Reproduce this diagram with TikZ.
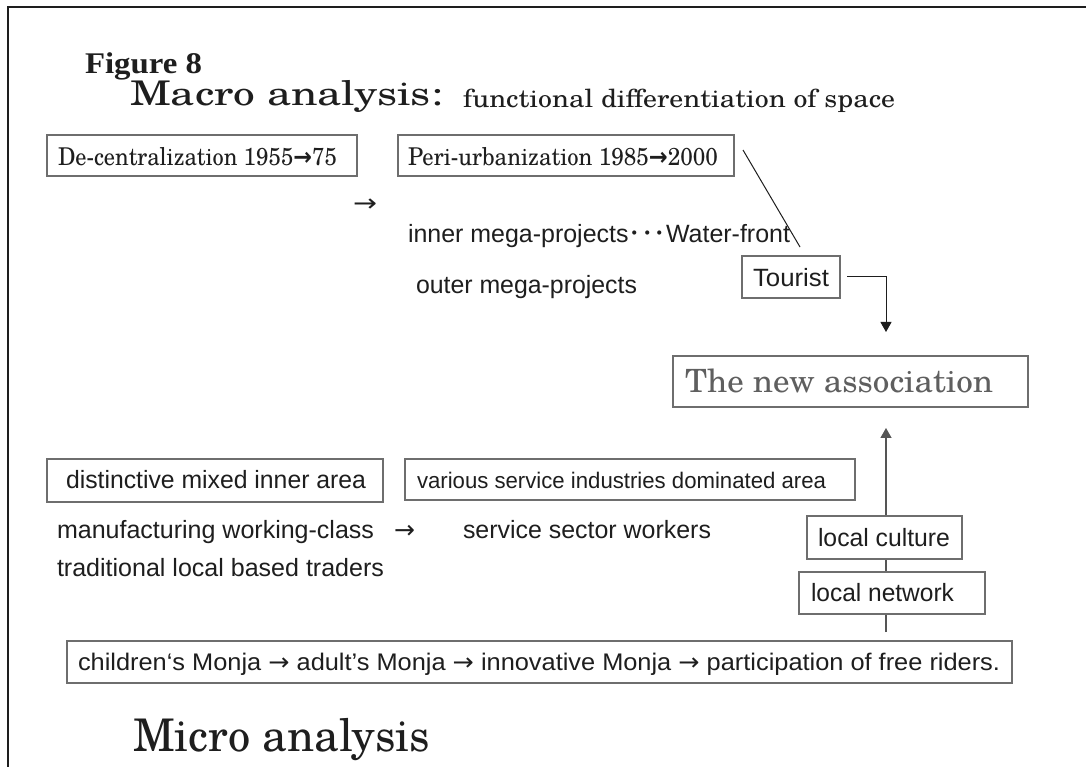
\documentclass[tikz,border=0pt]{standalone}
\usepackage{fontspec}
\usepackage{graphicx}
\usetikzlibrary{arrows.meta,calc,backgrounds}
\setmainfont{Liberation Sans}
\newfontfamily\schola{texgyreschola-regular.otf}
\newfontfamily\figfont{Liberation Serif}
\newfontfamily\cjkfont{Noto Sans CJK JP}
\newfontfamily\arrfont{DejaVu Sans}
\definecolor{ink}{HTML}{1E1E1E}
\definecolor{boxline}{HTML}{6E6E6E}
\definecolor{assocgray}{HTML}{5F5F5F}
\definecolor{upline}{HTML}{555555}
\newcommand{\bx}[4]{\makebox[#1pt][l]{\hspace*{#2pt}\resizebox{#3pt}{\height}{#4}}}
\newcommand{\fs}[1]{\fontsize{#1pt}{#1pt}\selectfont}
\newcommand{\ar}{{\arrfont →}}
\begin{document}
\begin{tikzpicture}[x=1pt,y=-1pt,
  every node/.style={inner sep=0pt,outer sep=0pt,text=ink},
  boxst/.style={draw=boxline,line width=1.3pt,fill=white,inner sep=0pt,anchor=north west},
  lbl/.style={inner sep=0pt,anchor=base west},
  conn/.style={draw=ink,line width=1pt},
  upconn/.style={draw=upline,line width=1.3pt}]
\useasboundingbox (0,0) rectangle (1088,767);
% frame
\draw[ink,line width=1.5pt] (8,767) -- (8,7) -- (1086,7);
% titles
\node[lbl] (fig) at (85,74) {\resizebox{117pt}{\height}{\figfont\bfseries\fs{30}Figure 8}};
\node[lbl] (macro) at (130,106) {\resizebox{313pt}{\height}{\schola\fs{34}Macro analysis:}};
\node[lbl] (func) at (463,108) {\resizebox{432pt}{\height}{\schola\fs{25}functional differentiation of space}};
% top boxes
\node[boxst,minimum width=310pt,minimum height=41pt,text height=21pt,text depth=0pt] (dec) at (47,135)
  {\bx{310}{11}{279}{\schola\fs{24.5}De-centralization 1955{\arrfont\bfseries →}75}};
\node[boxst,minimum width=336pt,minimum height=41pt,text height=21pt,text depth=0pt] (peri) at (398,135)
  {\bx{336}{10}{310}{\schola\fs{24.5}Peri-urbanization 1985{\arrfont\bfseries →}2000}};
\node[lbl,font=\fs{24}] (arr1) at (353,212) {\resizebox{24pt}{\height}{\ar}};
\node[lbl] (inner) at (408,243) {\resizebox{382pt}{\height}{\fs{25}inner mega-projects{\cjkfont ･･･}Water-front}};
\node[lbl] (outer) at (416,294) {\resizebox{221pt}{\height}{\fs{25}outer mega-projects}};
\node[boxst,minimum width=98pt,minimum height=42pt,text height=20pt,text depth=0pt] (tour) at (742,256)
  {\bx{98}{11}{76}{\fs{25}Tourist}};
\node[boxst,minimum width=355pt,minimum height=51pt,text height=23pt,text depth=0pt] (assoc) at (673,356)
  {\bx{355}{12}{308}{\color{assocgray}\schola\fs{32}The new association}};
% middle
\node[boxst,minimum width=336pt,minimum height=43pt,text height=17pt,text depth=0pt] (dist) at (47,459)
  {\bx{336}{19}{300}{\fs{25}distinctive mixed inner area}};
\node[boxst,minimum width=450pt,minimum height=41pt,text height=17pt,text depth=0pt] (vari) at (405,459)
  {\bx{450}{12}{409}{\fs{22.5}various service industries dominated area}};
\node[lbl] (manu) at (57,538) {\resizebox{358pt}{\height}{\fs{25}manufacturing working-class\hspace*{20pt}\ar}};
\node[lbl] (trad) at (57,576) {\resizebox{327pt}{\height}{\fs{25}traditional local based traders}};
\node[lbl] (serv) at (463,538) {\resizebox{248pt}{\height}{\fs{25}service sector workers}};
\node[boxst,minimum width=155pt,minimum height=43pt,text height=17pt,text depth=0pt] (cult) at (807,516)
  {\bx{155}{11}{132}{\fs{25}local culture}};
\node[boxst,minimum width=186pt,minimum height=42pt,text height=16pt,text depth=0pt] (netw) at (799,572)
  {\bx{186}{12}{143}{\fs{25}local network}};
\node[boxst,minimum width=945pt,minimum height=42pt,text height=16pt,text depth=0pt] (monja) at (67,641)
  {\bx{945}{11}{922}{\fs{24}children‘s Monja \ar\ adult's Monja \ar\ innovative Monja \ar\ participation of free riders.}};
\node[lbl] (micro) at (133,751) {\resizebox{297pt}{\height}{\schola\fs{45}Micro analysis}};
% connectors
\coordinate (ls) at ($(peri.east)+(9,-5.5)$);
\coordinate (le) at ($(tour.north)+(9,-9)$);
\draw[conn] (ls) -- (le);
\coordinate (ts) at ($(tour.east)+(7,0)$);
\coordinate (tt) at ($(assoc.north)+(35.5,-24)$);
\draw[conn,-{Triangle[length=10pt,width=11pt]}] (ts) -| (tt);
\coordinate (ub) at ($(netw.south)+(-6,18)$);
\coordinate (ut) at ($(assoc.south)+(35.5,21)$);
\begin{scope}[on background layer]
\fill[white] (0,0) rectangle (1088,767);
\draw[upconn,-{Triangle[length=10pt,width=11pt]}] (ub) -- (ub|-ut);
\end{scope}
\end{tikzpicture}
\end{document}
